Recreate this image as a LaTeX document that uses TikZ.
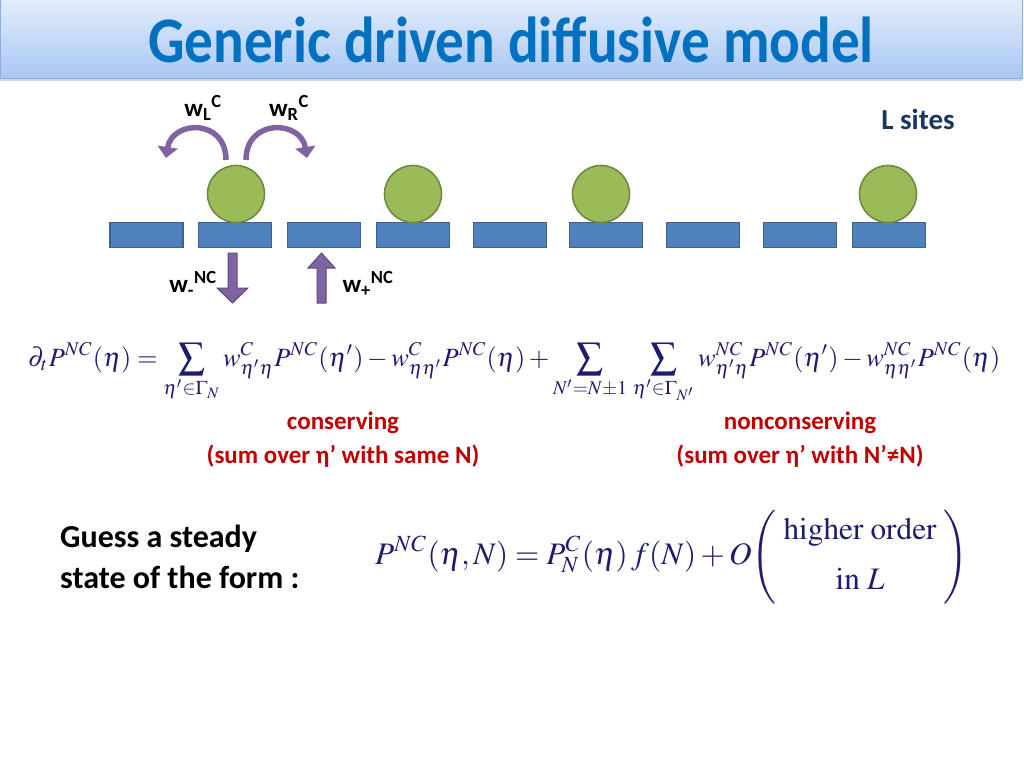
\documentclass[tikz,border=0pt]{standalone}
\usepackage{mathptmx}
\usepackage[no-math]{fontspec}
\setmainfont{Carlito}
\usetikzlibrary{arrows.meta,shadows}
\definecolor{titleblue}{HTML}{0070C0}
\definecolor{bandtop}{HTML}{E2ECFC}
\definecolor{bandbot}{HTML}{A9C7F4}
\definecolor{bandline}{HTML}{8EAEDF}
\definecolor{siteblue}{HTML}{4F81BD}
\definecolor{siteline}{HTML}{3A6294}
\definecolor{ballgreen}{HTML}{9BBB59}
\definecolor{ballline}{HTML}{71893F}
\definecolor{arrowpurple}{HTML}{8064A2}
\definecolor{arrowline}{HTML}{5E4A7A}
\definecolor{eqnavy}{HTML}{1F1C6E}
\definecolor{labred}{HTML}{C00000}
\definecolor{lsites}{HTML}{17375E}
\tikzset{
  sitebox/.style={draw=siteline, line width=1.2pt, fill=siteblue, minimum width=73pt, minimum height=25pt, inner sep=0pt},
  ball/.style={circle, draw=ballline, line width=1.6pt, fill=ballgreen, minimum size=57pt, inner sep=0pt},
  hop/.style={draw=arrowpurple, line width=5.5pt, -{Triangle[width=20pt,length=11pt]}},
  rate/.style={font=\bfseries\fontsize{25pt}{27pt}\selectfont, text=black, inner sep=0pt},
  redlab/.style={font=\bfseries\fontsize{25pt}{28pt}\selectfont, text=labred, inner sep=0pt},
  blockarrow/.style={draw=arrowline, line width=1pt, fill=arrowpurple},
}
\begin{document}
\begin{tikzpicture}[x=1pt,y=-1pt]
\useasboundingbox (0,0) rectangle (1024,768);
% title band
\shade[top color=bandtop, bottom color=bandbot, draw=bandline, line width=1pt, drop shadow={shadow xshift=0pt, shadow yshift=-3pt, opacity=0.35}]
  (0,0) rectangle (1022,78);
\node[font=\bfseries\fontsize{65pt}{70pt}\selectfont, text=titleblue, inner sep=0pt] (title) at (511,40) {\scalebox{0.88}[1]{Generic driven diffusive model}};
% sites
\foreach \n/\x in {1/146.5,2/235,3/324,4/413,5/510,6/606,7/703,8/800,9/889}
  \node[sitebox] (s\n) at (\x,235) {};
% particles
\node[ball] (b2) at (236,194) {};
\node[ball] (b4) at (413,194) {};
\node[ball] (b6) at (601,194) {};
\node[ball] (b9) at (888,194) {};
% hop arrows
\coordinate (lstart) at (226,160);
\coordinate (lend) at (166,158);
\coordinate (rstart) at (246,160);
\coordinate (rend) at (307,158);
\draw[hop] (lstart) .. controls (226,118) and (172,120) .. (lend);
\draw[hop] (rstart) .. controls (246,118) and (301,120) .. (rend);
\node[rate] (wl) at (203,108) {w\textsubscript{L}\textsuperscript{C}};
\node[rate] (wr) at (289,108) {w\textsubscript{R}\textsuperscript{C}};
% block arrows
\draw[blockarrow] (228,253) -- (237,253) -- (237,288) -- (248,288) -- (232.5,303) -- (217,288) -- (228,288) -- cycle;
\draw[blockarrow] (317,303) -- (326,303) -- (326,268) -- (335,268) -- (321.5,253) -- (308,268) -- (317,268) -- cycle;
\node[rate] (wm) at (193,284) {w\textsubscript{-}\textsuperscript{NC}};
\node[rate] (wp) at (368,284) {w\textsubscript{+}\textsuperscript{NC}};
\node[font=\bfseries\fontsize{29pt}{32pt}\selectfont, text=lsites, inner sep=0pt] (ls) at (918,119) {L sites};
% master equation
\node[text=eqnavy, inner sep=0pt, anchor=west] (eq1) at (28,373) {\resizebox{972pt}{!}{$\displaystyle
 \partial_t P^{NC}(\eta) = \sum_{\eta'\in\Gamma_N} w^{C}_{\eta'\eta} P^{NC}(\eta') - w^{C}_{\eta\eta'}P^{NC}(\eta)
 + \sum_{N'=N\pm1}\,\sum_{\eta'\in\Gamma_{N'}} w^{NC}_{\eta'\eta} P^{NC}(\eta') - w^{NC}_{\eta\eta'} P^{NC}(\eta)$}};
\node[redlab] (cons) at (343,423) {conserving};
\node[redlab] (consb) at (343,456) {(sum over η’ with same N)};
\node[redlab] (ncons) at (800,423) {nonconserving};
\node[redlab] (nconsb) at (800,456) {(sum over η’ with N’≠N)};
% guess
\node[font=\bfseries\fontsize{32pt}{41pt}\selectfont, text=black, align=left, anchor=base west, inner sep=0pt] (guess) at (60,588) {Guess a steady\\state of the form :};
\node[text=eqnavy, inner sep=0pt, anchor=west] (eq2) at (375,557) {\resizebox{593pt}{!}{$\displaystyle
 P^{NC}(\eta,N) = P^{C}_{N}(\eta)\,f(N) + O\!\left(\begin{array}{@{\;}c@{\;}}\mathrm{higher\ order}\\[4pt] \mathrm{in}\ L\end{array}\right)$}};
\end{tikzpicture}
\end{document}
